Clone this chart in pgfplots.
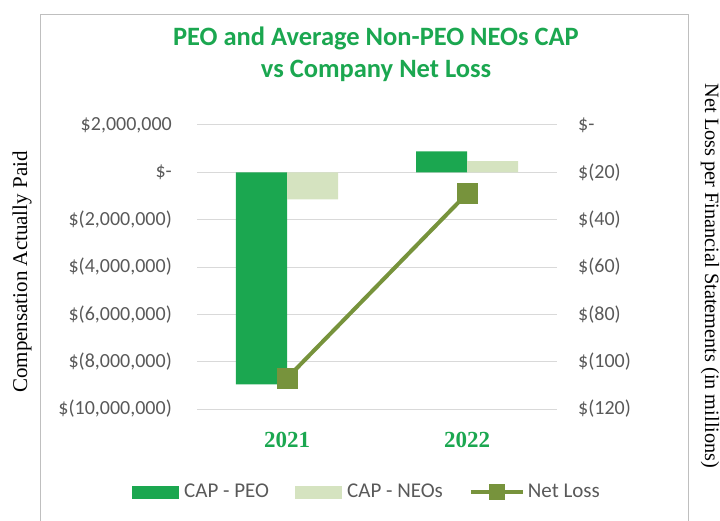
\documentclass[border=0pt]{standalone}
\usepackage{pgfplots}
\pgfplotsset{compat=1.18}
\usepackage{fontspec}
\setmainfont{Liberation Serif}
\newfontfamily\carlito{Carlito}
\definecolor{peo}{HTML}{1BA750}
\definecolor{neo}{HTML}{D5E3C0}
\definecolor{nl}{HTML}{77933C}
\definecolor{tickc}{HTML}{595959}
\definecolor{gridc}{HTML}{D9D9D9}
\definecolor{boxc}{HTML}{BFBFBF}
\begin{document}
\begin{tikzpicture}[x=1pt,y=1pt]
\useasboundingbox (0,0) rectangle (720,520);
\draw[boxc, line width=1pt] (40,-20) rectangle (688,505);
\node[font=\carlito\bfseries\fontsize{26.5}{32}\selectfont, text=peo, align=center] at (376,466) {PEO and Average Non-PEO NEOs CAP\\vs Company Net Loss};
\node[rotate=90, font=\fontsize{21}{21}\selectfont] at (22,248) {Compensation Actually Paid};
\node[rotate=-90, font=\fontsize{20.3}{20.3}\selectfont] at (710,244) {Net Loss per Financial Statements (in millions)};
\begin{axis}[at={(197pt,111pt)}, anchor=south west, width=360pt, height=284pt, scale only axis,
  xmin=-0.5, xmax=1.5, ymin=-10000000, ymax=2000000,
  ybar, bar width=51pt,
  ytick={-10000000,-8000000,-6000000,-4000000,-2000000,0,2000000},
  yticklabels={\$(10{,}000{,}000),\$(8{,}000{,}000),\$(6{,}000{,}000),\$(4{,}000{,}000),\$(2{,}000{,}000),\$-\hspace{0.5em},\$2{,}000{,}000\hspace{0.2em}},
  axis line style={draw=none}, major tick style={draw=none},
  ymajorgrids, grid style={gridc, line width=1pt},
  xtick={0,1}, xticklabels={2021,2022},
  xticklabel style={font=\bfseries\fontsize{23}{23}\selectfont, text=peo, anchor=base, inner sep=0pt, yshift=-34pt},
  yticklabel style={font=\carlito\fontsize{20}{20}\selectfont, text=tickc, anchor=east, inner sep=0pt, xshift=-25pt},
  scaled y ticks=false, /pgf/number format/assume math mode=true]
\addplot[fill=peo, draw=none, bar shift=-25.5pt] coordinates {(0,-8960000) (1,890000)};
\addplot[fill=neo, draw=none, bar shift=25.5pt] coordinates {(0,-1140000) (1,470000)};
\end{axis}
\begin{axis}[at={(197pt,111pt)}, anchor=south west, width=360pt, height=284pt, scale only axis,
  xmin=-0.5, xmax=1.5, ymin=-120, ymax=0,
  ytick={-120,-100,-80,-60,-40,-20,0},
  yticklabels={\$(120),\$(100),\$(80),\$(60),\$(40),\$(20),\$-},
  yticklabel pos=right,
  axis line style={draw=none}, major tick style={draw=none}, xtick=\empty,
  yticklabel style={font=\carlito\fontsize{20}{20}\selectfont, text=tickc, anchor=west, inner sep=0pt, xshift=21pt},
  /pgf/number format/assume math mode=true,
  legend style={at={(0.472,-0.292)}, anchor=center, draw=none, fill=none, legend columns=3,
    font=\carlito\fontsize{21}{21}\selectfont, text=tickc,
    /tikz/every even column/.append style={column sep=24pt}},
  clip=false]
\addlegendimage{legend image code/.code={\fill[peo] (0pt,-6pt) rectangle (46pt,6pt); \path[draw=none,fill=none] (0pt,0pt) -- (50pt,0pt);}}
\addlegendentry{CAP - PEO}
\addlegendimage{legend image code/.code={\fill[neo] (0pt,-6pt) rectangle (46pt,6pt); \path[draw=none,fill=none] (0pt,0pt) -- (50pt,0pt);}}
\addlegendentry{CAP - NEOs}
\addlegendimage{legend image code/.code={\draw[nl, line width=4pt] (0pt,0pt) -- (52pt,0pt); \fill[nl] (18.5pt,-7.5pt) rectangle (33.5pt,7.5pt); \path[draw=none,fill=none] (0pt,0pt) -- (55pt,0pt);}}
\addlegendentry{Net Loss}
\addplot[nl, line width=4pt, mark=square*, mark size=8.5pt, mark options={solid}] coordinates {(0,-107) (1,-29)};
\end{axis}
\end{tikzpicture}
\end{document}
